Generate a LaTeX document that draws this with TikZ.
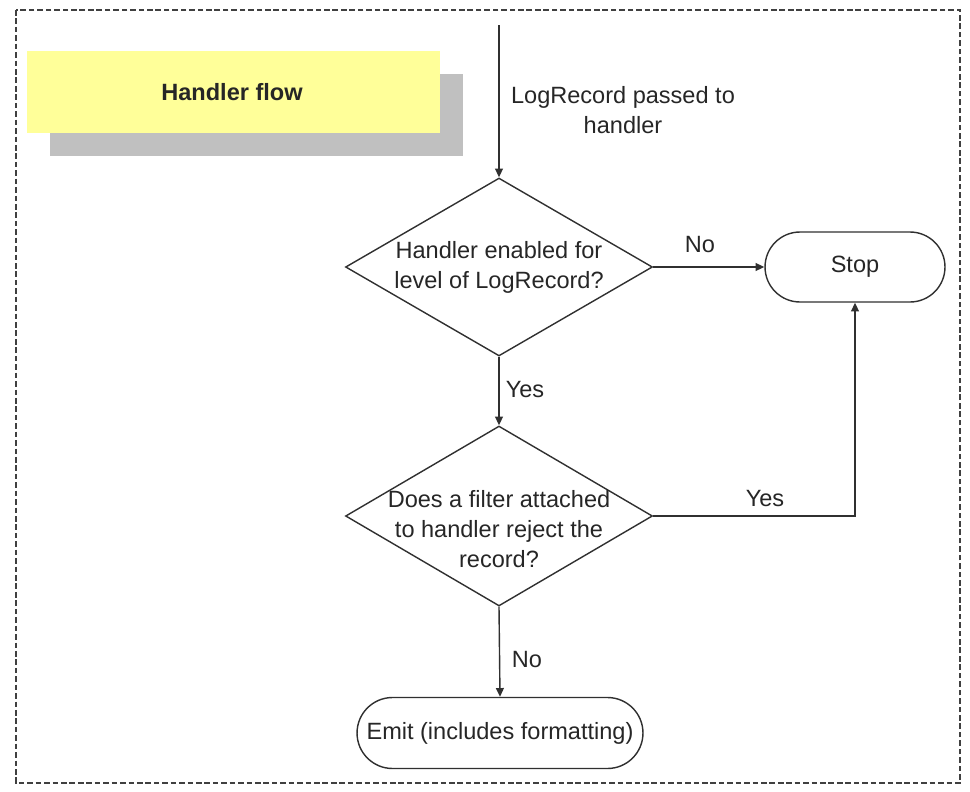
\documentclass[tikz,border=0pt]{standalone}
\usepackage{fontspec}
\setmainfont{Liberation Sans}
\usetikzlibrary{shapes.geometric,arrows.meta}
\definecolor{titleyellow}{HTML}{FFFF99}
\definecolor{shadowgray}{HTML}{C0C0C0}
\definecolor{linegray}{HTML}{303030}
\begin{document}
\begin{tikzpicture}[x=0.02cm,y=-0.02cm,
  every node/.style={font=\fontsize{13.4}{17}\selectfont, text=black!85},
  conn/.style={draw=linegray, line width=0.8pt, -{Triangle[length=5pt,width=4.5pt]}},
  decision/.style={draw=linegray, line width=0.8pt, shape=diamond, inner sep=0pt},
  terminal/.style={draw=linegray, line width=0.8pt, rectangle, inner sep=0pt},
  lbl/.style={inner sep=0pt, align=center}]
\useasboundingbox (0,0) rectangle (970,791);
% frame
\draw[draw=black!75, line width=1.1pt, dash pattern=on 3.2pt off 1.6pt] (16,10) rectangle (960,783);
% title
\fill[shadowgray] (50,74) rectangle (463,156);
\fill[titleyellow] (27,51) rectangle (440,133);
\node[lbl, font=\fontsize{13.4}{17}\selectfont\bfseries] (title) at (232,92) {Handler flow};
% nodes
\coordinate (start) at (499,25);
\node[decision, minimum width=6.14cm, minimum height=3.56cm] (d1) at (499,267) {};
\node[lbl] (d1t) at (499,267) {Handler enabled for\\level of LogRecord?};
\node[decision, minimum width=6.14cm, minimum height=3.6cm] (d2) at (499,516) {};
\node[lbl] (d2t) at (499,529) {Does a filter attached\\to handler reject the\\record?};
\node[terminal, minimum width=3.6cm, minimum height=1.4cm, rounded corners=0.7cm] (stop) at (855,267) {Stop};
\node[terminal, minimum width=5.72cm, minimum height=1.42cm, rounded corners=0.71cm] (emit) at (500,733) {Emit (includes formatting)};
% connectors
\draw[conn] (start) -- (d1.north);
\node[lbl] (lab0) at (623,110) {LogRecord passed to\\handler};
\draw[conn] (d1.east) -- (stop.west);
\node[lbl] (lab1) at (700,245) {No};
\draw[conn] (d1.south) -- (d2.north);
\node[lbl] (lab2) at (525,390) {Yes};
\draw[conn] (d2.east) -| (stop.south);
\node[lbl] (lab3) at (765,499) {Yes};
\draw[conn] (d2.south) -- (emit.north);
\node[lbl] (lab4) at (527,660) {No};
\end{tikzpicture}
\end{document}
